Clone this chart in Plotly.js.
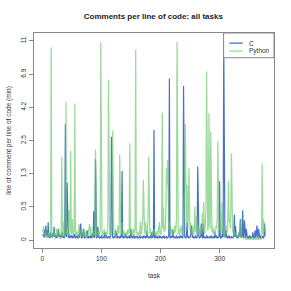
<!DOCTYPE html>
<html>
<head>
<meta charset="utf-8">
<script src="https://cdn.plot.ly/plotly-3.0.1.min.js"></script>
<style>html,body{margin:0;padding:0;background:#fff;}#chart{width:291px;height:291px;}</style>
</head>
<body>
<div id="chart"></div>
<script>
// Comments per line of code (min), one value per task
var cValues = [
0.05,0.08,0.03,0.14,0.06,0.2,0.04,0.12,0.05,0.25,0.03,0.08,0.02,0.1,0.04,0.06,0.03,0.09,0.05,0.18,
0.04,0.07,0.02,0.06,0.03,0.05,0.15,0.04,0.08,0.03,0.02,0.06,0.04,0.1,0.03,0.05,0.02,0.08,3.25,0.05,
0.04,1.05,0.06,0.03,0.05,0.02,0.07,0.04,0.03,0.06,0.02,0.05,0.03,0.08,0.04,0.02,0.05,0.03,0.06,0.02,
0.04,0.07,0.03,0.1,0.23,0.04,0.02,0.1,0.03,0.15,0.05,0.02,0.04,0.03,0.06,0.13,0.03,0.02,0.05,0.04,
0.03,0.06,0.02,0.05,0.08,0.03,0.43,0.05,0.03,1.74,0.04,0.02,0.06,0.18,0.03,0.05,0.02,0.04,0.03,0.06,
0.02,0.04,0.03,0.05,0.02,0.1,0.04,0.03,0.06,0.02,0.04,0.03,0.05,0.02,0.04,0.06,2.63,0.05,0.03,0.04,
0.02,0.05,0.03,0.06,0.12,0.04,0.02,0.05,0.03,0.04,0.02,0.06,0.03,0.05,1.37,0.04,0.02,0.05,0.03,0.04,
0.08,0.03,0.05,0.02,0.04,0.03,0.06,0.02,0.04,0.15,0.03,0.05,0.02,0.04,0.06,0.03,0.02,0.05,0.04,0.03,
0.05,0.02,0.04,0.03,0.06,0.02,0.04,0.03,0.05,0.02,0.04,0.06,0.03,0.05,0.02,0.04,0.12,0.03,0.05,0.02,
0.04,0.03,0.06,0.02,0.1,0.04,0.03,0.05,2.95,0.04,0.02,0.06,0.03,0.05,0.02,0.04,0.03,0.06,0.02,0.05,
0.03,0.04,0.02,0.05,0.03,0.06,0.02,0.04,0.03,0.05,0.02,0.04,0.03,0.06,6.5,0.04,0.02,0.05,0.03,0.04,
0.14,0.03,0.05,0.02,0.04,0.03,0.06,0.02,0.04,0.03,0.05,0.02,0.04,0.06,0.03,0.05,0.02,0.04,5.85,0.05,
0.03,0.04,0.02,0.06,0.25,0.03,0.05,0.02,0.04,0.03,0.06,0.2,0.04,0.03,0.05,0.02,0.04,0.03,0.06,0.02,
0.04,0.03,1.5,0.05,0.02,0.04,0.03,0.06,0.23,0.04,0.02,0.22,0.03,0.05,0.02,0.04,0.03,0.06,0.02,0.05,
0.03,0.04,0.02,0.05,0.03,0.06,0.02,0.04,0.03,0.05,0.02,0.1,0.04,0.03,0.06,0.02,0.04,0.03,0.05,1.08,
0.04,0.02,0.05,0.03,0.15,0.04,11.0,0.05,0.03,0.06,0.13,0.04,0.02,0.05,0.03,0.06,0.02,0.04,0.03,0.05,
0.02,0.04,0.03,0.06,0.37,0.04,0.19,0.05,0.03,0.06,0.02,0.04,0.1,0.05,0.3,0.04,0.03,0.06,0.45,0.05,
0.03,0.28,0.04,0.02,0.15,0.05,0.03,0.04,0.02,0.06,0.03,0.05,0.02,0.04,0.03,0.1,0.05,0.02,0.04,0.13,
0.03,0.05,0.2,0.04,0.02,0.15,0.05,0.03,0.06,0.02,0.04,0.03,0.05,0.02,0.04,0.22,0.05
];
var pythonValues = [
0.1,0.19,0.05,0.08,0.03,0.12,0.04,0.06,0.02,0.1,0.05,0.03,0.08,0.04,10.05,0.06,0.1,0.03,0.07,0.12,
0.05,0.08,0.03,0.15,0.06,0.04,0.1,0.15,0.05,0.08,0.03,0.12,1.83,0.05,0.1,0.26,0.04,0.08,0.06,4.6,
0.07,0.12,0.05,0.1,0.45,0.06,0.15,2.05,0.08,0.12,0.3,0.06,0.1,0.15,4.5,0.08,0.05,0.12,0.06,0.1,
0.04,0.22,0.08,0.05,0.12,0.06,0.1,0.04,0.15,0.08,0.05,0.1,0.06,0.12,0.04,0.08,0.05,0.1,0.2,0.22,
0.06,0.18,0.05,0.1,0.04,0.08,0.12,0.06,0.15,2.1,0.08,0.05,0.1,0.06,0.12,0.04,0.08,0.15,10.8,0.1,
0.06,0.12,0.05,0.08,0.15,0.06,0.1,0.04,0.12,0.08,0.2,6.4,0.1,0.06,0.15,0.08,0.25,0.1,2.92,0.12,
0.06,0.1,0.05,0.15,0.08,0.12,0.06,0.2,0.1,0.08,1.9,0.12,0.06,0.1,0.25,0.08,0.05,0.12,0.06,0.1,
0.08,0.05,0.12,0.06,0.15,0.08,0.1,2.35,0.12,0.06,0.1,0.05,0.08,0.15,0.06,0.1,0.2,9.8,0.12,0.08,
0.05,0.1,0.06,0.12,0.08,0.26,0.06,0.1,0.2,0.35,1.12,0.15,0.08,0.12,0.25,0.1,0.06,0.15,0.3,1.83,
0.12,0.08,0.15,0.06,0.1,0.05,0.12,0.08,0.15,0.06,0.1,0.08,0.05,0.12,0.06,0.1,0.15,0.25,0.08,0.12,
0.06,0.3,3.9,0.15,0.5,0.1,0.2,0.12,0.4,1.45,1.0,1.72,0.3,0.15,0.25,0.1,0.2,0.08,0.15,0.1,
0.06,0.12,0.08,0.2,0.1,0.15,0.3,10.85,0.12,0.08,0.15,0.06,0.1,0.2,0.2,0.1,0.06,0.15,0.12,0.3,
1.0,3.25,1.0,0.25,1.0,0.15,0.3,1.45,0.2,0.12,0.25,0.08,0.15,0.1,0.2,0.06,0.12,0.52,0.15,0.1,
0.35,0.12,0.08,0.2,0.1,0.15,0.06,0.12,0.08,0.2,0.4,0.1,0.61,0.15,0.08,0.25,0.5,7.2,0.3,0.12,
0.2,3.86,0.3,0.15,2.87,0.25,0.1,0.2,0.08,0.15,0.12,0.06,0.1,0.2,0.15,0.3,2.42,0.25,0.12,0.3,
0.15,0.1,0.2,0.6,0.12,0.08,0.15,0.1,0.06,0.12,0.08,0.2,0.1,0.37,1.1,0.25,0.3,0.15,0.5,1.95,
0.3,0.12,0.08,0.15,0.06,0.1,0.05,0.08,0.04,0.06,0.03,0.05,0.1,0.04,0.06,0.3,0.05,0.03,0.04,0.02,
0.03,0.02,0.04,0.02,0.01,0.02,0.01,0.02,0.01,0.02,0.01,0.02,0.01,0.02,0.01,0.02,0.01,0.02,0.01,0.02,
0.01,0.02,0.01,0.02,0.01,0.02,0.01,0.02,0.01,0.02,0.03,1.6,0.08,0.3,0.12,0.25,0.1
];
var seriesNames = ["C", "Python"];
var seriesColors = ["rgba(40,90,190,0.85)", "rgba(105,200,105,0.65)"];
var tickCount = 7;

var n = Math.max(cValues.length, pythonValues.length);
var tasks = [];
for (var i = 1; i <= n; i++) tasks.push(i);

// log(1+y) scale, as in the reference
var tr = function (v) { return Math.log1p(v); };
var yMax = tr(Math.max(Math.max.apply(null, cValues), Math.max.apply(null, pythonValues)));
var tickVals = [], tickText = [];
for (var k = 0; k < tickCount; k++) {
  var t = yMax * k / (tickCount - 1);
  tickVals.push(t);
  var v = Math.expm1(t);
  tickText.push(k === 0 ? "0" : (v >= 10 ? String(Math.round(v)) : (Math.round(v * 10 + 1e-9) / 10).toFixed(1)));
}

var font = "Liberation Sans, Arial, sans-serif";
var traces = [
  {x: tasks, y: cValues.map(tr), name: seriesNames[0], type: "scatter", mode: "lines",
   line: {color: seriesColors[0], width: 1.2}},
  {x: tasks, y: pythonValues.map(tr), name: seriesNames[1], type: "scatter", mode: "lines",
   line: {color: seriesColors[1], width: 1.3}}
];

// compact R-style legend box (top right, inside plot)
var legRows = [0.953, 0.916];
var shapes = [{type: "rect", xref: "paper", yref: "paper", x0: 0.79, x1: 1, y0: 0.885, y1: 1,
               line: {color: "#888", width: 1}, fillcolor: "#fff", layer: "above"}];
var annotations = [];
for (var s = 0; s < seriesNames.length; s++) {
  shapes.push({type: "line", xref: "paper", yref: "paper", x0: 0.814, x1: 0.870, y0: legRows[s], y1: legRows[s],
               line: {color: seriesColors[s], width: 1.3}, layer: "above"});
  annotations.push({xref: "paper", yref: "paper", x: 0.888, y: legRows[s], xanchor: "left", yanchor: "middle",
                    text: seriesNames[s], showarrow: false, font: {family: font, size: 6.5, color: "#333"}});
}

var pad = 0.04;
var layout = {
  width: 291, height: 291,
  margin: {l: 34, r: 17, t: 33, b: 43, pad: 0},
  paper_bgcolor: "#fff", plot_bgcolor: "#fff",
  font: {family: font, size: 6.5, color: "#333"},
  title: {text: "<b>Comments per line of code: all tasks</b>", font: {family: font, size: 8, color: "#222"},
          x: 0.527, xanchor: "center", y: 0.943, yanchor: "middle"},
  showlegend: false,
  shapes: shapes,
  annotations: annotations,
  xaxis: {
    range: [1 - pad * (n - 1), n + pad * (n - 1)],
    tickvals: [0, 100, 200, 300], ticktext: ["0", "100", "200", "300"],
    showgrid: false, zeroline: false, showline: true, mirror: true, linecolor: "#888", linewidth: 1,
    ticks: "outside", ticklen: 4, tickcolor: "#888", tickfont: {family: font, size: 6.5, color: "#333"},
    title: {text: "task", font: {family: font, size: 6.5, color: "#333"}, standoff: 12}
  },
  yaxis: {
    range: [-pad * yMax, (1 + pad) * yMax],
    tickvals: tickVals, ticktext: tickText, tickangle: -90,
    showgrid: false, zeroline: false, showline: true, mirror: true, linecolor: "#888", linewidth: 1,
    ticks: "outside", ticklen: 4, tickcolor: "#888", tickfont: {family: font, size: 6.5, color: "#333"},
    title: {text: "line of comment per line of code (min)", font: {family: font, size: 6.5, color: "#333"}, standoff: 8}
  }
};
Plotly.newPlot("chart", traces, layout, {displayModeBar: false, staticPlot: true});
</script>
</body>
</html>
